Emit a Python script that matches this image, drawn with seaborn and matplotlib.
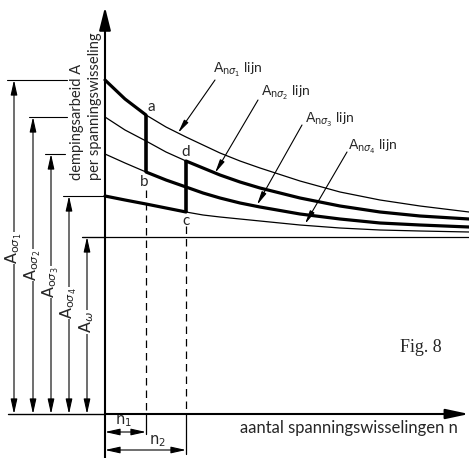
import numpy as np
import pandas as pd
import matplotlib
matplotlib.use("Agg")
import matplotlib.pyplot as plt
import seaborn as sns

# values (n along the axis, A above the base line)
n_pts = [0, 20, 41, 61, 81, 98, 115, 135, 155, 195, 235, 275, 315, 364]
A_n_s1 = [334, 315, 299, 287, 277, 269, 261, 253, 246, 233, 222, 214, 208, 202]
A_n_s2 = [297, 284, 273, 262, 253, 246, 239, 232, 226, 216, 208, 202, 198, 195]
A_n_s3 = [260, 251, 242, 234, 227, 221, 216, 211, 207, 200, 195, 191, 189, 187]
A_n_s4 = [218, 214, 210, 206, 202, 199, 197, 195, 193, 189, 186, 184, 183, 182]
A_omega = 177
n1 = 41
n2 = 81

curve_names = [r"$\mathrm{A}_{\mathrm{n}\sigma_1}$ lijn", r"$\mathrm{A}_{\mathrm{n}\sigma_2}$ lijn",
               r"$\mathrm{A}_{\mathrm{n}\sigma_3}$ lijn", r"$\mathrm{A}_{\mathrm{n}\sigma_4}$ lijn"]
dim_names = [r"$\mathrm{A}_{\mathrm{o}\sigma_1}$", r"$\mathrm{A}_{\mathrm{o}\sigma_2}$",
             r"$\mathrm{A}_{\mathrm{o}\sigma_3}$", r"$\mathrm{A}_{\mathrm{o}\sigma_4}$",
             r"$\mathrm{A}_{\omega}$"]

df = pd.DataFrame({
    "n": n_pts * 4,
    "A": A_n_s1 + A_n_s2 + A_n_s3 + A_n_s4,
    "lijn": sum([[name] * len(n_pts) for name in ["s1", "s2", "s3", "s4"]], []),
})

sns.set_style("white")
plt.rcParams["font.family"] = ["Lato", "DejaVu Sans"]
plt.rcParams["mathtext.fontset"] = "dejavusans"

fig = plt.figure(figsize=(4.69, 4.58), dpi=100)
ax = fig.add_axes([0, 0, 1, 1])
ax.set_xlim(-105, 364)
ax.set_ylim(-44, 414)
ax.axis("off")

k = "black"

# thin curves
sns.lineplot(data=df, x="n", y="A", units="lijn", estimator=None, color=k,
             linewidth=0.9, ax=ax, legend=False)

# thick parts: sigma1 up to n1, sigma3 after n1, sigma4 up to n2, sigma2 after n2
i1 = n_pts.index(n1)
i2 = n_pts.index(n2)
thick = [(n_pts[:i1 + 1], A_n_s1[:i1 + 1]), (n_pts[i1:], A_n_s3[i1:]),
         (n_pts[:i2 + 1], A_n_s4[:i2 + 1]), (n_pts[i2:], A_n_s2[i2:])]
for xs, ys in thick:
    sns.lineplot(x=xs, y=ys, color=k, linewidth=2.3, ax=ax, sort=False)
# jumps a-b and d-c
ax.plot([n1, n1], [A_n_s1[i1], A_n_s3[i1]], color=k, lw=2.6, solid_capstyle="butt")
ax.plot([n2, n2], [A_n_s2[i2], A_n_s4[i2]], color=k, lw=2.6, solid_capstyle="butt")

# A_omega line
ax.plot([-23, 364], [A_omega, A_omega], color=k, lw=0.9)

# axes with arrows
ax.plot([-97, 0], [0, 0], color=k, lw=1.0)
ax.annotate("", xy=(364, 0), xytext=(0, 0),
            arrowprops=dict(arrowstyle="-|>,head_length=1.4,head_width=0.3", color=k, lw=1.5,
                            shrinkA=0, shrinkB=0))
ax.annotate("", xy=(0, 407), xytext=(0, -44),
            arrowprops=dict(arrowstyle="-|>,head_length=1.4,head_width=0.35", color=k, lw=1.5,
                            shrinkA=0, shrinkB=0))

# dashed verticals and n dimensions
ax.plot([n1, n1], [224, 0], color=k, lw=0.9, ls=(0, (6, 4)))
ax.plot([n2, n2], [188, 0], color=k, lw=0.9, ls=(0, (6, 4)))
ax.plot([n1, n1], [0, -20], color=k, lw=0.9)
ax.plot([n2, n2], [0, -40], color=k, lw=0.9)
for nn, yy, lab, tx, ty in [(n1, -18, r"$\mathrm{n}_1$", 18, -7), (n2, -36, r"$\mathrm{n}_2$", 52, -27)]:
    ax.annotate("", xy=(nn, yy), xytext=(0, yy),
                arrowprops=dict(arrowstyle="<|-|>,head_length=0.9,head_width=0.2", color=k, lw=0.8,
                                shrinkA=0, shrinkB=0))
    ax.text(tx, ty, lab, fontsize=10.5, ha="center", va="center")

# left dimension arrows
levels = [A_n_s1[0], A_n_s2[0], A_n_s3[0], A_n_s4[0], A_omega]
arrow_x = [-91, -72, -54, -36, -18]
ext = [(-98, -38), (-76, -38), (-60, -40), (-42, 0), (-23, 0)]
label_y = [166, 149, 132, 111, 92]
for lev, xa, (e0, e1), ly, lab in zip(levels, arrow_x, ext, label_y, dim_names):
    ax.plot([e0, e1], [lev, lev], color=k, lw=0.8)
    ax.annotate("", xy=(xa, lev), xytext=(xa, 0),
                arrowprops=dict(arrowstyle="<|-|>,head_length=0.9,head_width=0.2", color=k, lw=0.8,
                                shrinkA=0, shrinkB=0))
    ax.text(xa, ly, lab, rotation=90, fontsize=11.5, ha="center", va="center",
            bbox=dict(facecolor="white", edgecolor="none", pad=0.5))

# curve labels with leaders
label_pos = [(108, 344), (156, 321), (200, 294), (243, 267)]
leaders = [((110, 334), (73, 281)), ((153, 314), (110, 241)),
           ((197, 289), (152, 209)), ((242, 262), (200, 190))]
for (tx, ty), (p0, p1), lab in zip(label_pos, leaders, curve_names):
    ax.text(tx, ty, lab, fontsize=10, ha="left", va="center")
    ax.annotate("", xy=p1, xytext=p0,
                arrowprops=dict(arrowstyle="-|>,head_length=0.8,head_width=0.15", color=k, lw=0.8,
                                shrinkA=0, shrinkB=0))

# point letters
for x, y, s in [(46, 307, "a"), (39, 232, "b"), (81, 262, "d"), (81, 193, "c")]:
    ax.text(x, y, s, fontsize=11, ha="center", va="center")

# axis titles
ax.text(-28, 234, "dempingsarbeid A", rotation=90, fontsize=10.5, ha="center", va="bottom")
ax.text(-10, 234, "per spanningswisseling", rotation=90, fontsize=10.5, ha="center", va="bottom")
ax.text(135, -14, "aantal spanningswisselingen n", fontsize=12, ha="left", va="center")
ax.text(295, 66, "Fig. 8", fontsize=13, family="Liberation Serif", ha="left", va="center")

fig.savefig("out.png", dpi=100, facecolor="white")
